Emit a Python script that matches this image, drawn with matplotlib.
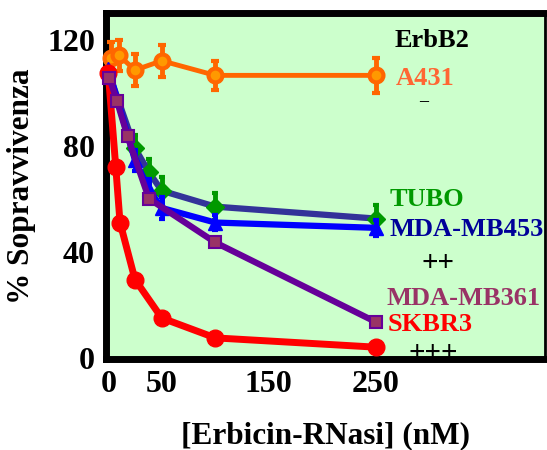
import matplotlib
matplotlib.use("Agg")
import matplotlib.pyplot as plt

# values (% survival vs nM)
conc_a431 = [3, 10, 25, 50, 100, 250]
surv_a431 = [113, 114, 108.5, 112, 106.5, 106.5]
err_a431 = [6, 6, 6, 6, 5.5, 6.5]

conc_tubo = [0, 25, 38, 50, 100, 250]
surv_tubo = [108, 79, 70, 63, 57, 52.5]
err_tubo = [0, 5, 5, 5, 5, 5]

conc_mb453 = [0, 25, 38, 50, 100, 250]
surv_mb453 = [109, 74.5, 63.5, 56.5, 51, 49]
err_mb453 = [0, 4, 4, 4, 3, 3]

conc_skbr3 = [0, 7, 11, 25, 50, 100, 250]
surv_skbr3 = [107.5, 72, 51, 29.5, 15, 7.5, 4]

conc_mb361 = [1, 8, 18, 38, 100, 250]
surv_mb361 = [105.5, 97, 83.5, 60, 43.5, 13.5]

x_ticks = [0, 50, 150, 250]
y_ticks = [0, 40, 80, 120]

plt.rcParams['font.family'] = ['Liberation Serif', 'DejaVu Serif']
plt.rcParams['font.weight'] = 'bold'

fig = plt.figure(figsize=(5.47, 4.5), dpi=100)
ax = fig.add_axes([0.194, 0.202, 0.802, 0.769])
ax.set_facecolor('#CCFFCC')

ax.errorbar(conc_a431, surv_a431, yerr=err_a431, color='#FF6600', lw=3.5,
            marker='o', ms=10, mfc='#FF9900', mec='#FF6600', mew=3,
            elinewidth=3.5, capsize=3, capthick=3, clip_on=False, zorder=3)
ax.errorbar(conc_tubo, surv_tubo, yerr=err_tubo, color='#333399', lw=4.5,
            marker='D', ms=9, mfc='#009900', mec='#009900',
            ecolor='#009900', elinewidth=3.5, capsize=2, capthick=3,
            markevery=list(range(1, len(conc_tubo))), clip_on=False, zorder=3)
ax.errorbar(conc_mb453, surv_mb453, yerr=err_mb453, color='#0000FF', lw=4.5,
            marker='^', ms=10, mfc='#0000FF', mec='#0000FF',
            elinewidth=3.5, capsize=2, capthick=3, clip_on=False, zorder=4)
ax.plot(conc_skbr3, surv_skbr3, color='#FF0000', lw=5, marker='o', ms=12,
        mfc='#FF0000', mec='#FF0000', clip_on=False, zorder=5)
ax.plot(conc_mb361, surv_mb361, color='#660099', lw=4.5, marker='s', ms=9,
        mfc='#993366', mec='#660099', mew=1.5, clip_on=False, zorder=6)

ax.set_xlim(-2, 408)
ax.set_ylim(-0.5, 130)
ax.set_xticks(x_ticks)
ax.set_yticks(y_ticks)
ax.tick_params(length=0, labelsize=23, pad=8)
for lab in ax.get_xticklabels() + ax.get_yticklabels():
    lab.set_fontweight('bold')

for side in ['left', 'bottom', 'top']:
    ax.spines[side].set_linewidth(5)
ax.spines['right'].set_linewidth(2)

ax.set_xlabel('[Erbicin-RNasi] (nM)', fontsize=22.5, fontweight='bold', labelpad=16)
ax.set_ylabel('% Sopravvivenza', fontsize=22.5, fontweight='bold', labelpad=8)

kw = dict(fontsize=19, fontweight='bold', ha='left', va='center')
ax.text(268, 119.5, 'ErbB2', color='black', **kw)
ax.text(269, 105.5, 'A431', color='#FF6633', **kw)
ax.text(291, 96.5, '\u2013', color='black', fontsize=13, ha='left', va='center')
ax.text(263, 59.5, 'TUBO', color='#009900', **kw)
ax.text(263, 48.5, 'MDA-MB453', color='#000099', **kw)
ax.text(293, 35.5, '++', color='black', fontsize=21, ha='left', va='center')
ax.text(260, 22.5, 'MDA-MB361', color='#993366', **kw)
ax.text(261, 12.5, 'SKBR3', color='#FF0000', **kw)
ax.text(281, 1.5, '+++', color='black', fontsize=21, ha='left', va='center')

fig.savefig('out.png', dpi=100)
